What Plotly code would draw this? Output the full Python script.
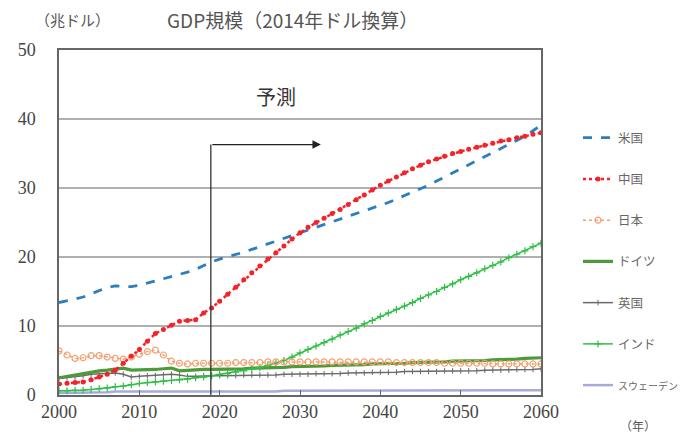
import plotly.graph_objects as go

years = list(range(2000, 2061))

us = [13.4, 13.6, 13.9, 14.2, 14.7, 15.2, 15.6, 15.8, 15.8, 15.7,
      15.9, 16.2, 16.5, 16.8, 17.1, 17.4, 17.8, 18.2, 18.8, 19.3,
      19.7, 20.0, 20.4, 20.7, 21.1, 21.5, 21.9, 22.3, 22.7, 23.0,
      23.4, 23.8, 24.2, 24.6, 25.0, 25.4, 25.8, 26.2, 26.6, 27.0,
      27.4, 27.9, 28.4, 28.9, 29.3, 29.8, 30.4, 31.0, 31.6, 32.1,
      32.7, 33.3, 33.9, 34.5, 35.1, 35.7, 36.3, 36.9, 37.5, 38.3, 39.1]

china = [1.6, 1.7, 1.8, 1.9, 2.2, 2.6, 3.0, 3.6, 4.6, 5.6,
         6.6, 7.8, 8.9, 9.5, 10.1, 10.7, 10.8, 10.9, 11.9, 12.6,
         13.6, 14.6, 15.6, 16.7, 17.7, 18.7, 19.7, 20.6, 21.6, 22.6,
         23.5, 24.3, 25.0, 25.6, 26.3, 26.9, 27.6, 28.3, 29.0, 29.7,
         30.4, 31.0, 31.6, 32.2, 32.8, 33.3, 33.8, 34.2, 34.6, 35.0,
         35.3, 35.6, 35.9, 36.2, 36.5, 36.8, 37.0, 37.3, 37.5, 37.8, 38.0]

japan = [6.4, 5.8, 5.3, 5.4, 5.7, 5.7, 5.5, 5.3, 5.2, 5.5,
         5.9, 6.3, 6.5, 5.8, 4.9, 4.6, 4.5, 4.6, 4.6, 4.6,
         4.6, 4.6, 4.7, 4.7, 4.7, 4.7, 4.8, 4.8, 4.8, 4.8,
         4.8, 4.8, 4.8, 4.8, 4.8, 4.8, 4.8, 4.8, 4.8, 4.8,
         4.8, 4.8, 4.7, 4.7, 4.7, 4.7, 4.7, 4.7, 4.6, 4.6,
         4.6, 4.6, 4.6, 4.6, 4.5, 4.5, 4.5, 4.5, 4.5, 4.5, 4.5]

germany = [2.5, 2.7, 2.9, 3.2, 3.4, 3.5, 3.6, 3.8, 3.9, 3.6,
           3.6, 3.7, 3.7, 3.8, 3.9, 3.5, 3.6, 3.6, 3.7, 3.7,
           3.7, 3.8, 3.8, 3.8, 3.9, 3.9, 4.0, 4.0, 4.0, 4.1,
           4.1, 4.1, 4.2, 4.2, 4.3, 4.3, 4.3, 4.4, 4.4, 4.5,
           4.5, 4.5, 4.6, 4.6, 4.7, 4.7, 4.7, 4.8, 4.8, 4.9,
           4.9, 4.9, 5.0, 5.0, 5.1, 5.1, 5.2, 5.2, 5.3, 5.3, 5.4]

uk = [2.4, 2.5, 2.6, 2.8, 3.0, 3.1, 3.2, 3.2, 3.0, 2.6,
      2.7, 2.8, 2.8, 2.9, 3.0, 2.9, 2.7, 2.7, 2.8, 2.8,
      2.8, 2.8, 2.8, 2.9, 2.9, 2.9, 2.9, 2.9, 3.0, 3.0,
      3.0, 3.0, 3.1, 3.1, 3.1, 3.1, 3.2, 3.2, 3.2, 3.3,
      3.3, 3.3, 3.3, 3.4, 3.4, 3.4, 3.4, 3.4, 3.5, 3.5,
      3.5, 3.5, 3.5, 3.6, 3.6, 3.6, 3.6, 3.7, 3.7, 3.7, 3.8]

india = [0.6, 0.6, 0.7, 0.7, 0.8, 0.9, 1.0, 1.2, 1.3, 1.5,
         1.7, 1.8, 1.9, 2.0, 2.1, 2.2, 2.3, 2.5, 2.6, 2.8,
         3.0, 3.1, 3.3, 3.5, 3.7, 4.0, 4.3, 4.6, 5.0, 5.5,
         6.1, 6.6, 7.1, 7.6, 8.1, 8.7, 9.2, 9.7, 10.3, 10.8,
         11.4, 11.9, 12.4, 12.9, 13.4, 14.0, 14.5, 15.0, 15.6, 16.1,
         16.7, 17.2, 17.7, 18.3, 18.8, 19.3, 19.9, 20.4, 20.9, 21.5, 22.0]

sweden = [0.3, 0.3, 0.3, 0.4, 0.4, 0.4, 0.4, 0.5, 0.5, 0.4,
          0.5, 0.5, 0.5, 0.5, 0.5, 0.5, 0.5, 0.5, 0.5, 0.5,
          0.5, 0.5, 0.5, 0.5, 0.5, 0.5, 0.5, 0.5, 0.6, 0.6,
          0.6, 0.6, 0.6, 0.6, 0.6, 0.6, 0.6, 0.6, 0.6, 0.6,
          0.6, 0.6, 0.6, 0.6, 0.6, 0.6, 0.6, 0.7, 0.7, 0.7,
          0.7, 0.7, 0.7, 0.7, 0.7, 0.7, 0.7, 0.7, 0.7, 0.7, 0.7]

names = ["米国", "中国", "日本", "ドイツ", "英国", "インド", "スウェーデン"]
x_ticks = [2000, 2010, 2020, 2030, 2040, 2050, 2060]
y_ticks = [0, 10, 20, 30, 40, 50]

forecast_start = 2018.9
arrow_end = 2032.6
arrow_level = 36.3

W, H = 681, 438
ML, MR, MT, MB = 59, 140, 50, 43
PW, PH = W - ML - MR, H - MT - MB


def paper(xp, yp):
    return (xp - ML) / PW, (H - MB - yp) / PH


fig = go.Figure()


def add(idx, y, color, width, dash=None, mode="lines", marker=None, label_size=None):
    label = names[idx]
    if label_size:
        label = f'<span style="font-size:{label_size}px">{label}</span>'
    fig.add_trace(go.Scatter(
        x=years, y=y, name=label, mode=mode,
        line=dict(color=color, width=width, dash=dash),
        marker=marker, legendgroup=str(idx), legendrank=idx + 1))


add(6, sweden, "#a8aadc", 2.5, label_size=10)
add(4, uk, "#6a6a6a", 1.5, mode="lines+markers",
    marker=dict(symbol="line-ns", size=4, color="#6a6a6a", line=dict(width=1, color="#6a6a6a")))
add(3, germany, "#4c9a3a", 3.2)
add(5, india, "#2fbf45", 1.5, mode="lines+markers",
    marker=dict(symbol="cross-thin", size=5, line=dict(width=1.2, color="#2fbf45")))
add(2, japan, "#f2a070", 1.5, dash="dot", mode="lines+markers",
    marker=dict(symbol="circle-open", size=6, color="#f2a070", line=dict(width=1.2)))
add(0, us, "#2b7fc0", 2.8, dash="dash")
add(1, china, "#f5222a", 2.5, dash="dot", mode="lines+markers",
    marker=dict(symbol="circle", size=5, color="#f5222a"))

serif = "Liberation Serif"
jp = "Noto Sans CJK JP"

fig.add_shape(type="line", x0=forecast_start, x1=forecast_start, y0=0, y1=arrow_level,
              xref="x", yref="y", line=dict(color="#333333", width=1.3))
fig.add_annotation(x=arrow_end, y=arrow_level, ax=forecast_start, ay=arrow_level,
                   xref="x", yref="y", axref="x", ayref="y", text="",
                   showarrow=True, arrowhead=2, arrowsize=1.3, arrowwidth=1.3,
                   arrowcolor="#222222")
fig.add_annotation(x=2027.0, y=43.2, xref="x", yref="y", text="予測", showarrow=False,
                   xanchor="center", yanchor="middle",
                   font=dict(family=jp, size=20, color="#333333"))

for (xp, yp), txt, sz in [((72, 19), "（兆ドル）", 15),
                          ((292, 19), "GDP規模（2014年ドル換算）", 19),
                          ((638, 425), "（年）", 12)]:
    px_, py_ = paper(xp, yp)
    fig.add_annotation(x=px_, y=py_, xref="paper", yref="paper", text=txt,
                       xanchor="center", yanchor="middle",
                       showarrow=False, font=dict(family=jp, size=sz, color="#555555"))

fig.update_layout(
    width=W, height=H,
    margin=dict(l=ML, r=MR, t=MT, b=MB),
    plot_bgcolor="white", paper_bgcolor="white",
    showlegend=True,
    legend=dict(xref="container", yref="container",
                x=578 / W, y=1 - 123 / H, xanchor="left", yanchor="top",
                traceorder="grouped", tracegroupgap=22, maxheight=430,
                font=dict(family=jp, size=12.5, color="#666666"),
                itemwidth=30, bgcolor="rgba(0,0,0,0)"),
    xaxis=dict(range=[2000, 2060], tickvals=x_ticks, showgrid=False,
               showline=True, linecolor="#666666", linewidth=1.5, mirror=True,
               ticks="inside", ticklen=5, tickcolor="#666666",
               tickfont=dict(family=serif, size=18, color="#444444")),
    yaxis=dict(range=[0, 50], tickvals=y_ticks, showgrid=True,
               gridcolor="#b0b0b0", gridwidth=2.2, zeroline=False,
               showline=True, linecolor="#666666", linewidth=1.5, mirror=True,
               ticks="", ticklabelstandoff=18,
               tickfont=dict(family=serif, size=18, color="#444444")),
)

fig.write_html("out.html")
